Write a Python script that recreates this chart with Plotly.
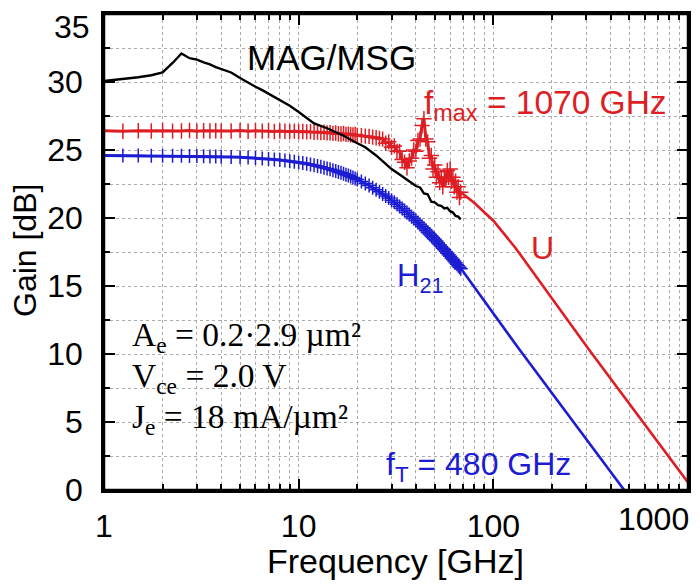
import plotly.graph_objects as go

# ---------------- data ----------------
freq_meas = [1.0, 1.25, 1.5, 1.75, 2.0, 2.25, 2.5, 2.75, 3.0, 3.25, 3.5, 3.75, 4.0,
             4.5, 5.0, 5.5, 6.0, 6.5, 7.0, 7.5, 8.0, 8.5, 9.0, 9.5, 10.0,
             10.5, 11.0, 11.5, 12.0, 12.5, 13.0, 13.5, 14.0, 14.5, 15.0,
             15.5, 16.0, 16.5, 17.0, 17.5, 18.0, 18.5, 19.0, 19.5, 20.0,
             21, 22, 23, 24, 25, 26, 27, 28, 29, 30, 31, 32, 33, 34, 35, 36, 37, 38,
             39, 40, 41, 42, 43, 44, 45, 46, 47, 48, 49, 50, 51, 52, 53, 54, 55, 56,
             57, 58, 59, 60, 61, 62, 63, 64, 65, 66, 67, 68]

h21_meas = [24.60, 24.59, 24.59, 24.58, 24.58, 24.57, 24.57, 24.56, 24.55, 24.54, 24.53, 24.52, 24.51,
            24.49, 24.47, 24.44, 24.41, 24.38, 24.34, 24.30, 24.26, 24.22, 24.18, 24.13, 24.09,
            24.04, 23.99, 23.93, 23.88, 23.82, 23.76, 23.70, 23.64, 23.58, 23.52,
            23.45, 23.39, 23.32, 23.25, 23.18, 23.12, 23.05, 22.97, 22.90, 22.83,
            22.68, 22.53, 22.39, 22.23, 22.08, 21.93, 21.77, 21.62, 21.47, 21.31, 21.16, 21.01,
            20.85, 20.70, 20.55, 20.40, 20.25, 20.10, 19.96, 19.81, 19.67, 19.52, 19.38, 19.24,
            19.10, 18.96, 18.83, 18.69, 18.56, 18.43, 18.30, 18.17, 18.04, 17.91, 17.78, 17.66,
            17.54, 17.41, 17.29, 17.18, 17.06, 16.94, 16.83, 16.71, 16.60, 16.49, 16.37, 16.27]

u_meas = [26.42, 26.38, 26.41, 26.40, 26.44, 26.39, 26.40, 26.43, 26.38, 26.41, 26.40, 26.42, 26.39,
          26.40, 26.43, 26.38, 26.41, 26.39, 26.42, 26.36, 26.40, 26.38, 26.35, 26.39, 26.34,
          26.36, 26.33, 26.35, 26.30, 26.32, 26.28, 26.31, 26.26, 26.27, 26.22,
          26.25, 26.20, 26.18, 26.21, 26.15, 26.17, 26.12, 26.10, 26.14, 26.07,
          26.05, 26.02, 26.00, 25.95, 25.90, 25.85, 25.80, 25.50, 25.60, 25.20, 25.30, 24.90,
          24.90, 24.30, 24.10, 23.70, 24.20, 24.40, 25.00, 24.90, 25.70, 25.80, 26.80, 27.30,
          25.80, 25.60, 24.40, 24.60, 23.60, 23.90, 23.00, 23.40, 22.60, 23.00, 22.30, 22.90,
          22.80, 23.50, 23.00, 23.60, 22.70, 23.00, 22.30, 22.70, 21.90, 22.30, 21.50, 21.90]

freq_mag = [1.0, 1.25, 1.5, 1.75, 2.0, 2.25, 2.5, 2.75, 3.0, 3.25, 3.5, 3.75, 4.0, 4.5, 5.0,
            5.5, 6.0, 6.5, 7.0, 8.0, 9.0, 10.0, 12.0, 14.0, 15.0, 17.0, 20.0, 22.0, 25.0,
            28.0, 30.0, 33.0, 36.0, 40.0, 42.0, 44.0, 46.0, 48.0, 50.0, 52.0, 54.0, 56.0,
            58.0, 60.0, 62.0, 64.0, 66.0, 68.0]
mag_msg = [30.07, 30.20, 30.35, 30.50, 30.70, 31.40, 32.10, 31.75, 31.65, 31.45, 31.30, 31.10,
           30.95, 30.70, 30.30, 29.95, 29.65, 29.40, 29.15, 28.70, 28.25, 27.80, 26.95, 26.60,
           26.40, 26.05, 25.50, 25.20, 24.60, 24.00, 23.60, 23.20, 22.80, 22.35, 22.25, 21.80,
           21.75, 21.20, 21.15, 20.95, 20.90, 20.70, 20.75, 20.50, 20.40, 20.15, 20.10, 19.90]

freq_u_ext = [68, 80, 100, 130, 178, 311, 1000]
u_ext = [21.9, 21.1, 19.8, 17.8, 15.1, 10.3, 0.55]

freq_h21_ext = [68, 135, 470]
h21_ext = [16.3, 10.4, 0.0]

x_tickvals = [1, 10, 100, 1000]
x_ticktext = ["1", "10", "100", ""]
x_minor = [2, 3, 4, 5, 6, 7, 8, 9, 20, 30, 40, 50, 60, 70, 80, 90,
           200, 300, 400, 500, 600, 700, 800, 900]
y_tickvals = [0, 5, 10, 15, 20, 25, 30, 35]
y_ticktext = ["0", "5", "10", "15", "20", "25", "30", ""]

RED = "rgb(222,30,36)"
BLUE = "rgb(28,28,210)"
BLACK = "black"

fig = go.Figure()

# U (red)
fig.add_trace(go.Scatter(x=freq_u_ext, y=u_ext, mode="lines",
                         line=dict(color=RED, width=2.6), hoverinfo="skip"))
fig.add_trace(go.Scatter(x=freq_meas, y=u_meas, mode="lines+markers",
                         line=dict(color=RED, width=3),
                         marker=dict(symbol="cross-thin", size=11,
                                     line=dict(color=RED, width=1.5))))
# H21 (blue)
fig.add_trace(go.Scatter(x=freq_h21_ext, y=h21_ext, mode="lines",
                         line=dict(color=BLUE, width=2.6), hoverinfo="skip"))
fig.add_trace(go.Scatter(x=freq_meas, y=h21_meas, mode="lines+markers",
                         line=dict(color=BLUE, width=3),
                         marker=dict(symbol="cross-thin", size=10,
                                     line=dict(color=BLUE, width=1.5))))
# MAG/MSG (black)
fig.add_trace(go.Scatter(x=freq_mag, y=mag_msg, mode="lines",
                         line=dict(color=BLACK, width=2.4)))
# invisible copy on the overlay axes so the top / right tick axes are drawn
fig.add_trace(go.Scatter(x=freq_mag, y=mag_msg, mode="lines", xaxis="x2", yaxis="y2",
                         line=dict(color="rgba(0,0,0,0)", width=0), hoverinfo="skip"))

TICKFONT = dict(family="Liberation Sans, Arial, sans-serif", size=32, color="black")
GRID = "rgb(170,170,170)"

xcommon = dict(type="log", range=[0, 3], tickvals=x_tickvals, automargin=False,
               ticks="inside", ticklen=11, tickwidth=2, tickcolor="black",
               showline=True, linecolor="black", linewidth=2.5, zeroline=False)
ycommon = dict(range=[0, 35], tickvals=y_tickvals, automargin=False,
               ticks="inside", ticklen=11, tickwidth=2, tickcolor="black",
               showline=True, linecolor="black", linewidth=2.5, zeroline=False)

fig.update_layout(
    xaxis=dict(**xcommon, ticktext=x_ticktext, tickfont=TICKFONT, ticklabelstandoff=6,
               ticklabeloverflow="allow", showgrid=True, gridcolor=GRID, griddash="dot",
               gridwidth=1,
               minor=dict(tickvals=x_minor, ticks="inside", ticklen=6, tickwidth=1.5,
                          tickcolor="black", showgrid=True, gridcolor=GRID,
                          griddash="dot", gridwidth=1)),
    yaxis=dict(**ycommon, ticktext=y_ticktext, tickfont=TICKFONT, ticklabelstandoff=12,
               ticklabeloverflow="allow", showgrid=True, gridcolor=GRID, griddash="dot",
               gridwidth=1,
               minor=dict(dtick=2.5, ticks="inside", ticklen=6, tickwidth=1.5,
                          tickcolor="black", showgrid=True, gridcolor=GRID,
                          griddash="dot", gridwidth=1)),
    xaxis2=dict(**xcommon, overlaying="x", side="top", anchor="y", showticklabels=False,
                showgrid=False,
                minor=dict(tickvals=x_minor, ticks="inside", ticklen=6, tickwidth=1.5,
                           tickcolor="black", showgrid=False)),
    yaxis2=dict(**ycommon, overlaying="y", side="right", anchor="x", showticklabels=False,
                showgrid=False,
                minor=dict(dtick=2.5, ticks="inside", ticklen=6, tickwidth=1.5,
                           tickcolor="black", showgrid=False)),
)

# frame around the plotting area
fig.add_shape(type="rect", xref="paper", yref="paper", x0=0, x1=1, y0=0, y1=1,
              line=dict(color="black", width=2.5), layer="above")

SANS = "Liberation Sans, Arial, sans-serif"
SERIF = "Liberation Serif, Times New Roman, serif"

def px2paper(px, py):
    return (px - 104) / 584.0, (490 - py) / 476.0

annots = []
def add(text, px, py, xanchor="center", size=32, color="black", family=SANS, angle=0):
    xp, yp = px2paper(px, py)
    annots.append(dict(text=text, x=xp, y=yp, xref="paper", yref="paper",
                       xanchor=xanchor, yanchor="middle", showarrow=False,
                       textangle=angle, font=dict(family=family, size=size, color=color)))

add("MAG/MSG", 331, 57, size=35)
add("f<sub>max</sub> = 1070 GHz", 422, 105, xanchor="left", size=33.5, color=RED)
add("U", 542, 248, size=32, color=RED)
add("H<sub>21</sub>", 395, 278, xanchor="left", size=31, color=BLUE)
add("f<sub>T</sub> = 480 GHz", 573, 466, xanchor="right", size=32, color=BLUE)
add("A<sub>e</sub> = 0.2\u00b72.9 \u00b5m\u00b2", 130, 337, xanchor="left", size=33.5, family=SERIF)
add("V<sub>ce</sub> = 2.0 V", 130, 378, xanchor="left", size=33.5, family=SERIF)
add("J<sub>e</sub> = 18 mA/\u00b5m\u00b2", 130, 419, xanchor="left", size=33.5, family=SERIF)
add("Gain [dB]", 25, 250, size=32, angle=-90)
add("Frequency [GHz]", 395, 561, size=34)
add("1000", 691, 519, xanchor="right", size=32)
add("35", 92, 27, xanchor="right", size=32)

fig.update_layout(width=700, height=585, margin=dict(l=104, r=12, t=14, b=95),
                  paper_bgcolor="white", plot_bgcolor="white", showlegend=False,
                  annotations=annots)

fig.write_html("out.html", config={"displayModeBar": False},
               post_script="document.body.style.margin='0';document.body.style.overflow='hidden';")
